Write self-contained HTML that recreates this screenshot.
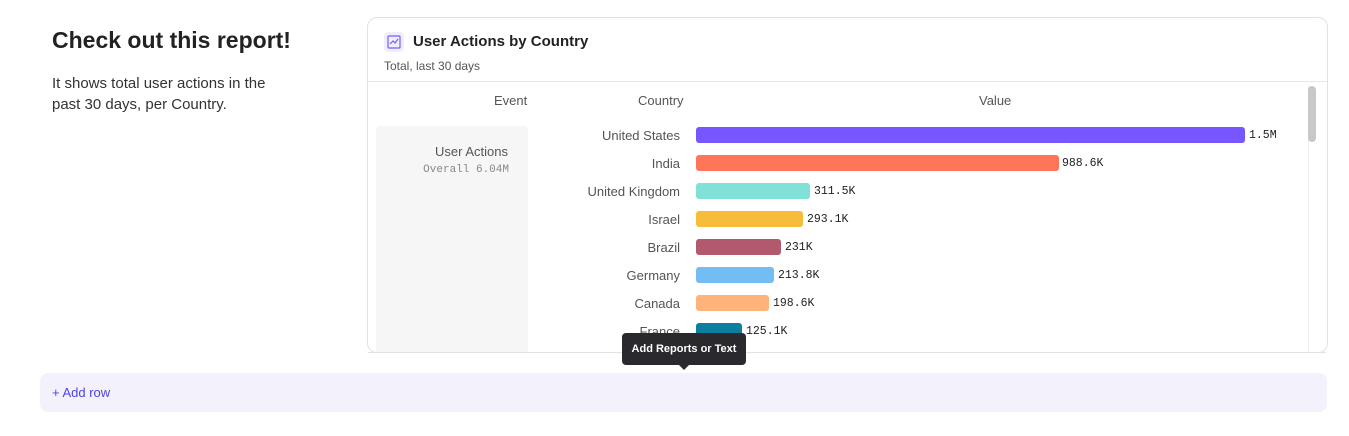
<!DOCTYPE html><html><head><style>
body{margin:0;width:1349px;height:436px;background:#fff;font-family:"Liberation Sans",sans-serif;position:relative;overflow:hidden;color:#333}
.a{position:absolute}
.lbl{position:absolute;right:0;font-size:13px;color:#555;text-align:right}
.bar{position:absolute;left:696px;height:16px;border-radius:3px}
.v{position:absolute;font-family:"Liberation Mono",monospace;font-size:11.5px;color:#222}
</style></head><body>
<div class="a" style="left:52px;top:27px;font-size:23px;font-weight:bold;color:#222">Check out this report!</div>
<div class="a" style="left:52px;top:73px;font-size:15px;line-height:21px;color:#333">It shows total user actions in the<br>past 30 days, per Country.</div>
<div class="a" style="left:367px;top:17px;width:959px;height:334px;border:1px solid #e2e2e2;border-radius:10px;overflow:hidden">
 <div class="a" style="left:16px;top:14px;width:20px;height:20px;background:#efeefc;border-radius:4px"><svg width="20" height="20"><rect x="4" y="4" width="12" height="12" fill="none" stroke="#7b5cf5" stroke-width="1.2" rx="1"/><polyline points="6,12 9,9 11,11 14,7" fill="none" stroke="#7b5cf5" stroke-width="1.2"/></svg></div>
 <div class="a" style="left:45px;top:15px;font-size:15px;font-weight:bold;color:#222">User Actions by Country</div>
 <div class="a" style="left:16px;top:41px;font-size:12px;color:#555">Total, last 30 days</div>
 <div class="a" style="left:0;top:63px;width:959px;height:1px;background:#e6e6e6"></div>
 <div class="a" style="left:126px;top:75px;font-size:13px;color:#555">Event</div>
 <div class="a" style="left:270px;top:75px;font-size:13px;color:#555">Country</div>
 <div class="a" style="left:611px;top:75px;font-size:13px;color:#555">Value</div>
 <div class="a" style="left:8px;top:108px;width:152px;height:240px;background:#f6f6f6;border-radius:4px"></div>
 <div class="a" style="left:0;top:126px;width:140px;text-align:right;font-size:13px;color:#555">User Actions</div>
 <div class="a" style="left:0;top:146px;width:141px;text-align:right;font-size:11px;font-family:'Liberation Mono',monospace;color:#888">Overall 6.04M</div>
 <div class="a" style="left:940px;top:67px;width:9px;height:267px;border-left:1px solid #eee"></div>
 <div class="a" style="left:940px;top:68px;width:8px;height:56px;background:#c8c8c8;border-radius:4px"></div>
</div>
<div class="a" style="left:0;top:0;width:680px">
 <div class="lbl" style="top:128px">United States</div>
 <div class="lbl" style="top:156px">India</div>
 <div class="lbl" style="top:184px">United Kingdom</div>
 <div class="lbl" style="top:212px">Israel</div>
 <div class="lbl" style="top:240px">Brazil</div>
 <div class="lbl" style="top:268px">Germany</div>
 <div class="lbl" style="top:296px">Canada</div>
 <div class="lbl" style="top:324px">France</div>
</div>
<div class="bar" style="top:127px;width:549px;background:#7856ff"></div><div class="v" style="left:1249px;top:129px">1.5M</div>
<div class="bar" style="top:155px;width:363px;background:#ff7557"></div><div class="v" style="left:1062px;top:157px">988.6K</div>
<div class="bar" style="top:183px;width:114px;background:#80e1d9"></div><div class="v" style="left:814px;top:185px">311.5K</div>
<div class="bar" style="top:211px;width:107px;background:#f8bc3b"></div><div class="v" style="left:807px;top:213px">293.1K</div>
<div class="bar" style="top:239px;width:85px;background:#b2596e"></div><div class="v" style="left:785px;top:241px">231K</div>
<div class="bar" style="top:267px;width:78px;background:#72bef4"></div><div class="v" style="left:778px;top:269px">213.8K</div>
<div class="bar" style="top:295px;width:73px;background:#ffb27a"></div><div class="v" style="left:773px;top:297px">198.6K</div>
<div class="a" style="left:696px;top:323px;width:46px;height:29px;overflow:hidden"><div style="height:16px;background:#0d7ea0;border-radius:3px"></div></div><div class="v" style="left:746px;top:325px">125.1K</div>
<div class="a" style="left:368px;top:352px;width:958px;height:1px;background:#e2e2e2"></div>
<div class="a" style="left:40px;top:373px;width:1287px;height:39px;background:#f3f1fc;border-radius:8px"></div>
<div class="a" style="left:52px;top:385px;font-size:13px;color:#4f44e0">+ Add row</div>
<div class="a" style="left:622px;top:333px;width:124px;height:32px;background:#2a2a2e;border-radius:4px;color:#fff;font-size:11px;font-weight:bold;line-height:32px;text-align:center">Add Reports or Text</div>
<div class="a" style="left:678px;top:364px;width:0;height:0;border-left:6px solid transparent;border-right:6px solid transparent;border-top:6px solid #2a2a2e"></div>
</body></html>
